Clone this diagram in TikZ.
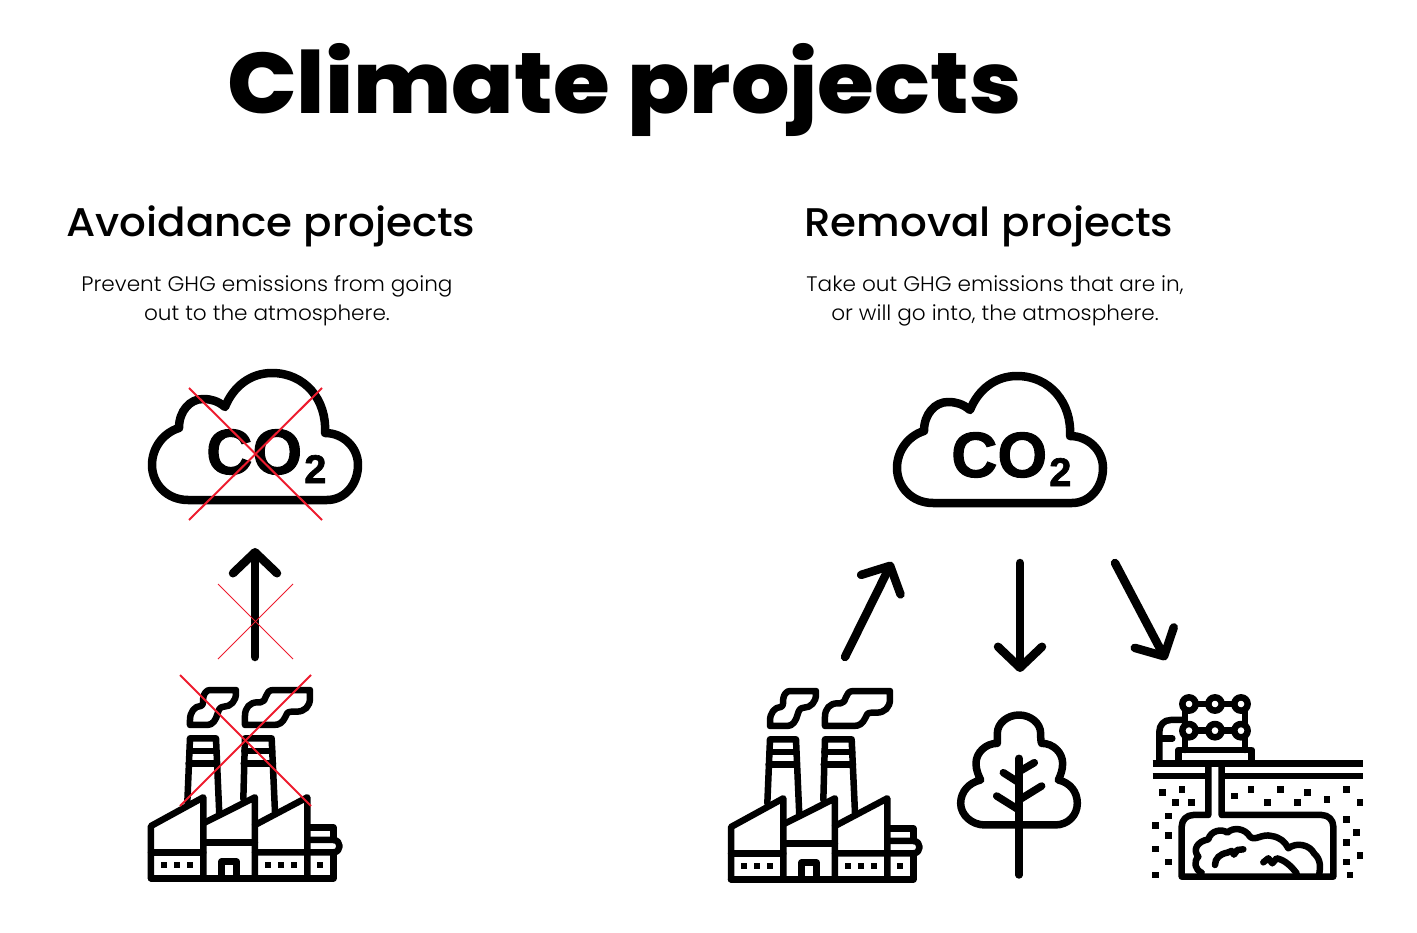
\documentclass[tikz,border=0pt]{standalone}
\usepackage{fontspec}
\usetikzlibrary{arrows.meta}
\setmainfont{Poppins}
\newfontfamily\titlefont{Poppins ExtraBold}[FakeStretch=1.07]
\newfontfamily\headfont{Poppins Medium}[FakeStretch=1.05]
\newfontfamily\bodyfont{Poppins Light}[FakeStretch=1.03]
\newfontfamily\gasfont{Liberation Sans Bold}[FakeBold=1.6]
\definecolor{crossred}{RGB}{237,28,46}
\tikzset{
  icon/.style={line width=#1,line cap=round,line join=round},
  icon/.default=8.5pt,
  bigarrow/.style={icon,-{Straight Barb[round,length=21pt,width=44pt]}},
  cross/.style={crossred,line width=#1},
  titletext/.style={font=\titlefont\fontsize{86}{86}\selectfont,anchor=base west,inner sep=0pt},
  headtext/.style={font=\headfont\fontsize{40}{40}\selectfont,anchor=base west,inner sep=0pt},
  bodytext/.style={font=\bodyfont\fontsize{21}{29}\selectfont,align=center,anchor=north,inner sep=0pt},
  cloudicon/.pic={
    \draw[icon] (188,500) -- (327,500) .. controls (345,500) and (358,484) .. (358,465)
      .. controls (358,447) and (343,433) .. (325,433) .. controls (327,400) and (305,373) .. (272,373)
      .. controls (250,373) and (233,387) .. (225,407) .. controls (218,401) and (211,399) .. (203,399)
      .. controls (190,399) and (179,411) .. (179,428) .. controls (163,433) and (152,448) .. (152,465)
      .. controls (152,484) and (167,500) .. (188,500) -- cycle;
    \node[font=\gasfont\fontsize{64}{64}\selectfont,anchor=base west,inner sep=0pt] (gas) at (206,474)
      {CO\kern2pt\raisebox{-9pt}{\fontsize{40}{40}\selectfont 2}};
  },
  factoryicon/.pic={
    \begin{scope}[shift={(130,665)},x=0.3333pt,y=-0.3333pt,icon=6.5pt]
      % sheds
      \draw (63,640) -- (63,483) -- (220,397) -- (220,640);
      \draw (220,475) -- (375,397) -- (375,640);
      \draw (375,480) -- (532,397) -- (532,640);
      \draw (63,640) -- (610,640) -- (610,562);
      \draw (63,562) -- (220,562);
      \draw (220,533) -- (375,533);
      \draw (375,562) -- (610,562) .. controls (635,562) and (635,525) .. (610,525) -- (532,525);
      \draw (532,487) -- (610,487) -- (610,525);
      \draw (275,640) -- (275,590) -- (320,590) -- (320,640);
      \foreach \x in {102,141,180,413,452,491,570}
        \fill[black] (\x-9,592) rectangle (\x+9,610);
      % chimneys
      \draw (172,412) -- (180,220) -- (258,220) -- (268,450);
      \draw (178,258) -- (258,258);
      \draw (176,295) -- (260,295);
      \draw (340,402) -- (345,220) -- (425,220) -- (435,440);
      \draw (343,258) -- (427,258);
      \draw (341,295) -- (429,295);
      % smoke
      \draw (240,75) -- (318,75) -- (318,85) .. controls (318,108) and (302,125) .. (282,125)
        .. controls (270,125) and (266,134) .. (263,145) .. controls (258,165) and (248,180) .. (232,180)
        -- (180,180) -- (180,165) .. controls (180,140) and (195,123) .. (212,123)
        .. controls (222,121) and (218,108) .. (220,97) .. controls (222,85) and (230,75) .. (240,75) -- cycle;
      \draw (430,75) -- (540,75) -- (540,100) .. controls (540,124) and (524,140) .. (500,140)
        -- (485,140) .. controls (470,140) and (470,148) .. (466,156) .. controls (458,172) and (450,180) .. (430,180)
        -- (345,180) -- (345,152) .. controls (345,128) and (360,112) .. (382,112) -- (392,112)
        .. controls (412,112) and (402,75) .. (430,75) -- cycle;
    \end{scope}
  },
  treeicon/.pic={
    \begin{scope}[shift={(940,700)},x=0.3333pt,y=-0.3333pt,icon=7.5pt]
      \draw (237,175) -- (237,525);
      \draw (237,215) -- (283,188);
      \draw (190,218) -- (237,248);
      \draw (305,258) -- (237,300);
      \draw (170,288) -- (237,330);
      \draw (135,375) -- (345,375) .. controls (385,375) and (412,345) .. (412,310)
        .. controls (412,275) and (390,248) .. (355,240) .. controls (362,225) and (368,210) .. (368,190)
        .. controls (368,158) and (340,130) .. (305,130) .. controls (302,125) and (302,110) .. (302,100)
        .. controls (302,70) and (272,45) .. (237,45) .. controls (202,45) and (172,70) .. (172,100)
        .. controls (172,110) and (172,125) .. (172,130) .. controls (137,130) and (108,158) .. (108,190)
        .. controls (108,210) and (115,225) .. (122,240) .. controls (87,248) and (62,275) .. (62,310)
        .. controls (62,345) and (95,375) .. (135,375) -- cycle;
    \end{scope}
  },
  storeicon/.pic={
    \begin{scope}[shift={(1140,680)},x=0.3333pt,y=-0.3333pt,icon=6.5pt]
      \draw[line cap=butt] (38,250) -- (668,250);
      \draw[line cap=butt] (38,288) -- (205,288);
      \draw[line cap=butt] (245,288) -- (668,288);
      \draw (205,250) -- (205,405) -- (160,405) .. controls (140,405) and (125,420) .. (125,440) -- (125,590)
        -- (580,590) -- (580,440) .. controls (580,420) and (565,405) .. (545,405) -- (245,405) -- (245,258);
      % rig
      \draw (115,242) -- (115,210) -- (335,210) -- (335,242);
      \draw (135,72) -- (135,210);
      \draw (315,72) -- (315,210);
      \draw (147,72) -- (303,72);
      \draw (147,152) -- (303,152);
      \foreach \x in {147,225,303}
        \foreach \y in {72,152}
          \draw[fill=white] (\x,\y) circle (20);
      \draw (58,242) -- (58,155) .. controls (58,135) and (72,120) .. (92,120) -- (130,120);
      \draw (58,175) -- (97,175);
      % soil
      \foreach \x/\y in {67/338,126/328,106/368,155/368,86/408,47/437,86/467,47/507,86/546,47/585,
          284/348,333/328,383/368,422/328,472/368,502/338,561/358,620/328,660/368,
          620/418,650/457,620/487,660/526,620/546,630/585}
        \fill[black] (\x-10,\y-10) rectangle (\x+10,\y+10);
      % deposit
      \draw (185,578) .. controls (165,570) and (160,545) .. (175,530) .. controls (158,510) and (170,485) .. (205,478)
        .. controls (212,452) and (245,445) .. (262,458) .. controls (280,440) and (315,445) .. (330,470)
        .. controls (345,485) and (365,460) .. (395,468) .. controls (420,472) and (435,485) .. (445,505)
        .. controls (470,485) and (510,495) .. (522,520) .. controls (545,540) and (540,565) .. (538,582);
      \draw (225,555) .. controls (225,535) and (240,522) .. (262,518) -- (275,513) -- (282,524) -- (292,510) -- (310,508);
      \draw (370,547) -- (385,535) -- (397,550) -- (410,535) .. controls (435,540) and (455,560) .. (470,580);
    \end{scope}
  }
}
\begin{document}
\begin{tikzpicture}[x=1pt,y=-1pt]
  \useasboundingbox (0,0) rectangle (1417,933);
  \node[titletext] (title) at (227,114) {Climate projects};
  \node[headtext] (avoidhead) at (66,237) {Avoidance projects};
  \node[headtext] (removehead) at (804,237) {Removal projects};
  \node[bodytext] (avoidbody) at (267,275) {Prevent GHG emissions from going\\out to the atmosphere.};
  \node[bodytext] (removebody) at (995,276) {Take out GHG emissions that are in,\\or will go into, the atmosphere.};

  % avoidance side
  \pic (cloudL) at (0,0) {cloudicon};
  \pic (factoryL) at (0,0) {factoryicon};
  \coordinate (upfrom) at (255,657);
  \coordinate (upto) at (255,548);
  \draw[bigarrow] (upfrom) -- (upto);

  % removal side
  \pic (cloudR) at (745,3) {cloudicon};
  \pic (factoryR) at (580,1) {factoryicon};
  \pic (tree) at (0,0) {treeicon};
  \pic (store) at (0,0) {storeicon};
  \coordinate (emitfrom) at (845,657);
  \coordinate (emitto) at (892,562);
  \coordinate (sinkfrom) at (1020,563);
  \coordinate (sinkto) at (1020,672);
  \coordinate (storefrom) at (1115,563);
  \coordinate (storeto) at (1166,660);
  \draw[bigarrow] (emitfrom) -- (emitto);
  \draw[bigarrow] (sinkfrom) -- (sinkto);
  \draw[bigarrow] (storefrom) -- (storeto);

  % crosses
  \draw[cross=2pt] (189,388) -- (322,520);
  \draw[cross=2pt] (322,388) -- (189,520);
  \draw[cross=1pt] (218,584) -- (293,659);
  \draw[cross=1pt] (293,584) -- (218,659);
  \draw[cross=2pt] (180,675) -- (311,806);
  \draw[cross=2pt] (311,675) -- (180,806);
\end{tikzpicture}
\end{document}
